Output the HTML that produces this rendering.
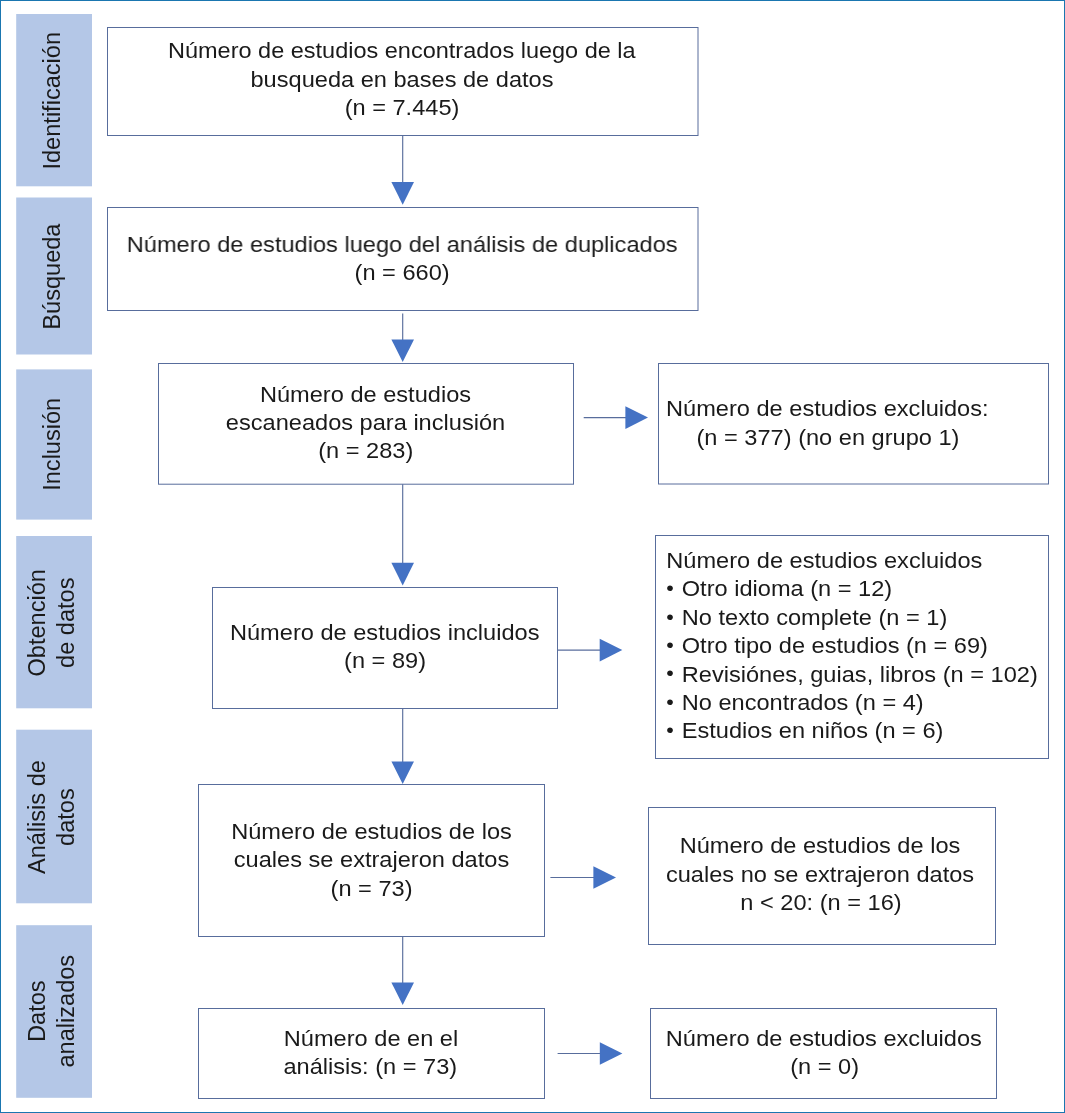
<!DOCTYPE html>
<html lang="es"><head><meta charset="utf-8"><title>Diagrama de flujo</title>
<style>
html,body{margin:0;padding:0;background:#fff;}
body{width:1065px;height:1113px;overflow:hidden;position:relative;}
.frame{position:absolute;left:0;top:0;width:1063px;height:1111px;border:1px solid #1a76b0;}
svg{position:absolute;left:0;top:0;display:block;will-change:transform;}
svg text{font-family:"Liberation Sans",Arial,sans-serif;fill:#1a1a1a;}
</style></head><body>
<div class="frame"></div>
<svg width="1065" height="1113" viewBox="0 0 1065 1113">
<rect x="16.2" y="14" width="75.8" height="172.3" fill="#b4c7e7"/>
<text transform="translate(59.9,100.75) rotate(-90) scale(1.017,1)" text-anchor="middle" font-size="23.2">Identificación</text>
<rect x="16.2" y="197.5" width="75.8" height="157.0" fill="#b4c7e7"/>
<text transform="translate(59.9,276.6) rotate(-90) scale(1.017,1)" text-anchor="middle" font-size="23.2">Búsqueda</text>
<rect x="16.2" y="369.4" width="75.8" height="150.2" fill="#b4c7e7"/>
<text transform="translate(59.9,444.3) rotate(-90) scale(1.017,1)" text-anchor="middle" font-size="23.2">Inclusión</text>
<rect x="16.2" y="536" width="75.8" height="172.3" fill="#b4c7e7"/>
<text transform="translate(45.0,622.75) rotate(-90) scale(1.017,1)" text-anchor="middle" font-size="23.2">Obtención</text>
<text transform="translate(74.3,622.75) rotate(-90) scale(1.017,1)" text-anchor="middle" font-size="23.2">de datos</text>
<rect x="16.2" y="729.7" width="75.8" height="173.6" fill="#b4c7e7"/>
<text transform="translate(45.0,817.1) rotate(-90) scale(1.017,1)" text-anchor="middle" font-size="23.2">Análisis de</text>
<text transform="translate(74.3,817.1) rotate(-90) scale(1.017,1)" text-anchor="middle" font-size="23.2">datos</text>
<rect x="16.2" y="925.2" width="75.8" height="172.6" fill="#b4c7e7"/>
<text transform="translate(45.0,1011.2) rotate(-90) scale(1.017,1)" text-anchor="middle" font-size="23.2">Datos</text>
<text transform="translate(74.3,1011.2) rotate(-90) scale(1.017,1)" text-anchor="middle" font-size="23.2">analizados</text>
<rect x="107.5" y="27.5" width="590.5" height="108.0" fill="#fff" stroke="#586d9c" stroke-width="1"/>
<text transform="translate(401.8,58.1) scale(1.045,1)" text-anchor="middle" font-size="22.5">Número de estudios encontrados luego de la</text>
<text transform="translate(402,86.7) scale(1.049,1)" text-anchor="middle" font-size="22.5">busqueda en bases de datos</text>
<text transform="translate(402,115.3) scale(1.049,1)" text-anchor="middle" font-size="22.5">(n = 7.445)</text>
<line x1="402.7" y1="135.4" x2="402.7" y2="183.1" stroke="#586d9c" stroke-width="1.15"/>
<polygon points="391.4,182.1 414.0,182.1 402.7,204.7" fill="#4472c4"/>
<rect x="107.5" y="207.5" width="590.5" height="103.0" fill="#fff" stroke="#586d9c" stroke-width="1"/>
<text transform="translate(402.1,251.6) scale(1.049,1)" text-anchor="middle" font-size="22.5">Número de estudios luego del análisis de duplicados</text>
<text transform="translate(402.1,280) scale(1.049,1)" text-anchor="middle" font-size="22.5">(n = 660)</text>
<line x1="402.7" y1="313.5" x2="402.7" y2="340.4" stroke="#586d9c" stroke-width="1.15"/>
<polygon points="391.4,339.4 414.0,339.4 402.7,362" fill="#4472c4"/>
<rect x="158.5" y="363.5" width="415.0" height="120.7" fill="#fff" stroke="#586d9c" stroke-width="1"/>
<text transform="translate(365.5,401.7) scale(1.049,1)" text-anchor="middle" font-size="22.5">Número de estudios</text>
<text transform="translate(365.5,429.8) scale(1.049,1)" text-anchor="middle" font-size="22.5">escaneados para inclusión</text>
<text transform="translate(365.7,458.2) scale(1.049,1)" text-anchor="middle" font-size="22.5">(n = 283)</text>
<line x1="583.7" y1="417.6" x2="626.4" y2="417.6" stroke="#586d9c" stroke-width="1.15"/>
<polygon points="625.4,406.3 625.4,428.90000000000003 648,417.6" fill="#4472c4"/>
<rect x="658.5" y="363.5" width="390.0" height="120.5" fill="#fff" stroke="#586d9c" stroke-width="1"/>
<text transform="translate(666,415.8) scale(1.049,1)" text-anchor="start" font-size="22.5">Número de estudios excluidos:</text>
<text transform="translate(696.5,444.5) scale(1.049,1)" text-anchor="start" font-size="22.5">(n = 377) (no en grupo 1)</text>
<line x1="402.7" y1="484.2" x2="402.7" y2="563.8" stroke="#586d9c" stroke-width="1.15"/>
<polygon points="391.4,562.8 414.0,562.8 402.7,585.4" fill="#4472c4"/>
<rect x="212.5" y="587.5" width="345.0" height="121.0" fill="#fff" stroke="#586d9c" stroke-width="1"/>
<text transform="translate(384.7,639.9) scale(1.049,1)" text-anchor="middle" font-size="22.5">Número de estudios incluidos</text>
<text transform="translate(385,668.2) scale(1.049,1)" text-anchor="middle" font-size="22.5">(n = 89)</text>
<line x1="557.6" y1="650.1" x2="600.6999999999999" y2="650.1" stroke="#586d9c" stroke-width="1.15"/>
<polygon points="599.6999999999999,638.8000000000001 599.6999999999999,661.4 622.3,650.1" fill="#4472c4"/>
<rect x="655.5" y="535.5" width="393.0" height="223.0" fill="#fff" stroke="#586d9c" stroke-width="1"/>
<text transform="translate(666.3,567.9) scale(1.049,1)" text-anchor="start" font-size="22.5">Número de estudios excluidos</text>
<text transform="translate(666.3,596.3) scale(1.049,1)" text-anchor="start" font-size="22.5"><tspan dy="-1.2" font-size="20.5">•</tspan><tspan dy="1.2" dx="1.3"> Otro idioma (n = 12)</tspan></text>
<text transform="translate(666.3,624.6999999999999) scale(1.049,1)" text-anchor="start" font-size="22.5"><tspan dy="-1.2" font-size="20.5">•</tspan><tspan dy="1.2" dx="1.3"> No texto complete (n = 1)</tspan></text>
<text transform="translate(666.3,653.0999999999999) scale(1.049,1)" text-anchor="start" font-size="22.5"><tspan dy="-1.2" font-size="20.5">•</tspan><tspan dy="1.2" dx="1.3"> Otro tipo de estudios (n = 69)</tspan></text>
<text transform="translate(666.3,681.5) scale(1.049,1)" text-anchor="start" font-size="22.5"><tspan dy="-1.2" font-size="20.5">•</tspan><tspan dy="1.2" dx="1.3"> Revisiónes, guias, libros (n = 102)</tspan></text>
<text transform="translate(666.3,709.9) scale(1.049,1)" text-anchor="start" font-size="22.5"><tspan dy="-1.2" font-size="20.5">•</tspan><tspan dy="1.2" dx="1.3"> No encontrados (n = 4)</tspan></text>
<text transform="translate(666.3,738.3) scale(1.049,1)" text-anchor="start" font-size="22.5"><tspan dy="-1.2" font-size="20.5">•</tspan><tspan dy="1.2" dx="1.3"> Estudios en niños (n = 6)</tspan></text>
<line x1="402.7" y1="708.3" x2="402.7" y2="762.4" stroke="#586d9c" stroke-width="1.15"/>
<polygon points="391.4,761.4 414.0,761.4 402.7,784" fill="#4472c4"/>
<rect x="198.5" y="784.5" width="346.0" height="152.0" fill="#fff" stroke="#586d9c" stroke-width="1"/>
<text transform="translate(371.5,838.8) scale(1.049,1)" text-anchor="middle" font-size="22.5">Número de estudios de los</text>
<text transform="translate(371.5,867.2) scale(1.049,1)" text-anchor="middle" font-size="22.5">cuales se extrajeron datos</text>
<text transform="translate(371.5,895.6) scale(1.049,1)" text-anchor="middle" font-size="22.5">(n = 73)</text>
<line x1="550.4" y1="877.5" x2="594.4" y2="877.5" stroke="#586d9c" stroke-width="1.15"/>
<polygon points="593.4,866.2 593.4,888.8 616,877.5" fill="#4472c4"/>
<rect x="648.5" y="807.5" width="347.0" height="137.0" fill="#fff" stroke="#586d9c" stroke-width="1"/>
<text transform="translate(820,853.4) scale(1.049,1)" text-anchor="middle" font-size="22.5">Número de estudios de los</text>
<text transform="translate(820,881.8) scale(1.049,1)" text-anchor="middle" font-size="22.5">cuales no se extrajeron datos</text>
<text transform="translate(821,910.2) scale(1.049,1)" text-anchor="middle" font-size="22.5">n &lt; 20: (n = 16)</text>
<line x1="402.7" y1="936.5" x2="402.7" y2="983.4" stroke="#586d9c" stroke-width="1.15"/>
<polygon points="391.4,982.4 414.0,982.4 402.7,1005" fill="#4472c4"/>
<rect x="198.5" y="1008.5" width="346.0" height="90.0" fill="#fff" stroke="#586d9c" stroke-width="1"/>
<text transform="translate(371,1045.8) scale(1.049,1)" text-anchor="middle" font-size="22.5">Número de en el</text>
<text transform="translate(370.3,1073.8) scale(1.049,1)" text-anchor="middle" font-size="22.5">análisis: (n = 73)</text>
<line x1="557.6" y1="1053.5" x2="600.8" y2="1053.5" stroke="#586d9c" stroke-width="1.15"/>
<polygon points="599.8,1042.2 599.8,1064.8 622.4,1053.5" fill="#4472c4"/>
<rect x="650.5" y="1008.5" width="346.0" height="90.0" fill="#fff" stroke="#586d9c" stroke-width="1"/>
<text transform="translate(823.8,1045.5) scale(1.049,1)" text-anchor="middle" font-size="22.5">Número de estudios excluidos</text>
<text transform="translate(824.6,1073.6) scale(1.049,1)" text-anchor="middle" font-size="22.5">(n = 0)</text>
</svg>
</body></html>
